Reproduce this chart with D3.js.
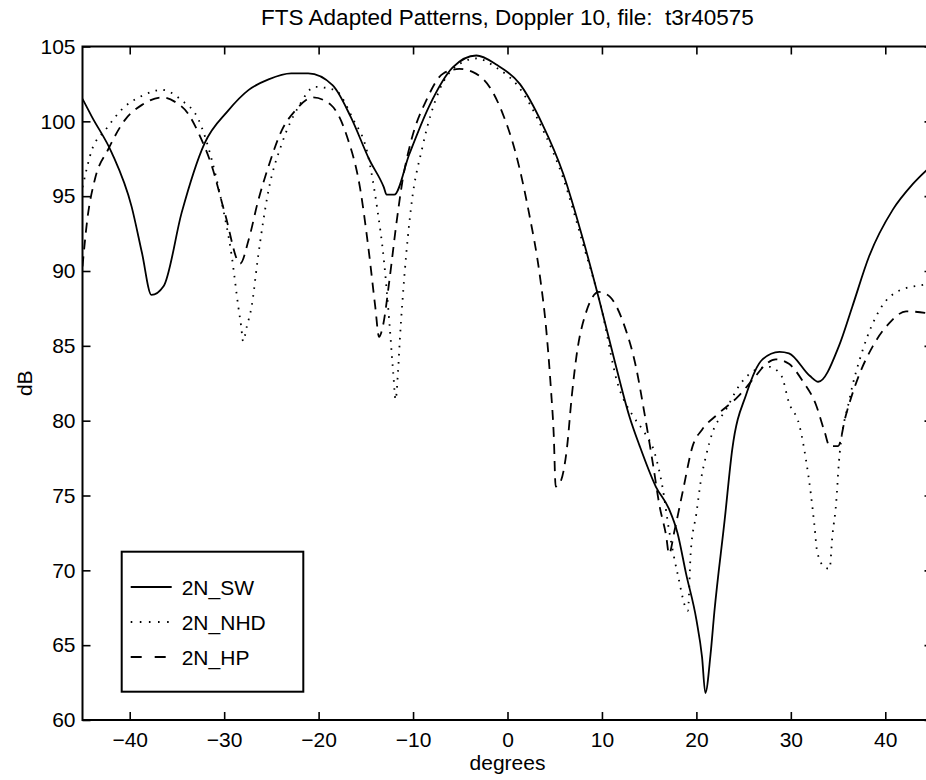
<!DOCTYPE html>
<html>
<head>
<meta charset="utf-8">
<script src="https://cdn.jsdelivr.net/npm/d3@7"></script>
<style>
  html, body { margin: 0; padding: 0; background: #fff; }
  svg { display: block; }
  text { font-family: "Liberation Sans", Arial, Helvetica, sans-serif; fill: #000; }
</style>
</head>
<body>
<svg id="chart" width="926" height="780"></svg>
<script>
// ---- data ----
const titleText = "FTS Adapted Patterns, Doppler 10, file:  t3r40575";
const xLabel = "degrees";
const yLabel = "dB";
const xTicks = [-40, -30, -20, -10, 0, 10, 20, 30, 40];
const yTicks = [60, 65, 70, 75, 80, 85, 90, 95, 100, 105];
const seriesNames = ["2N_SW", "2N_NHD", "2N_HP"];

const swDeg = [-45, -44.0, -41.9, -39.8, -38.7, -37.7, -36.4, -34.5, -32.1, -29.6, -27.4, -25.3, -22.9, -21.1, -18.5, -16.6, -14.6, -13.1, -12.8, -12.0, -10.4, -8.3, -5.8, -3.3, -1.2, 1.3, 3.7, 5.9, 8.0, 9.7, 11.5, 12.9, 14.0, 15.7, 17.1, 18.0, 18.9, 20.0, 20.6, 20.95, 21.5, 21.9, 23.0, 23.8, 25.3, 27.0, 28.8, 29.8, 32.0, 32.9, 35.1, 36.5, 38.3, 40.8, 42.9, 45];
const swDb  = [101.5, 100.3, 97.9, 94.3, 91.2, 88.4, 89.0, 93.9, 98.5, 100.7, 102.1, 102.8, 103.2, 103.2, 102.4, 100.3, 97.4, 95.6, 95.1, 95.1, 97.8, 101.0, 103.6, 104.4, 103.8, 102.5, 99.8, 96.5, 92.1, 88.1, 83.6, 80.3, 78.3, 75.6, 74.1, 72.5, 69.8, 66.7, 64.2, 61.8, 64.4, 67.2, 73.4, 78.1, 81.8, 84.1, 84.6, 84.5, 83.0, 82.6, 85.0, 87.6, 91.0, 94.1, 95.8, 97.1];

const nhdDeg = [-45, -44.0, -42.6, -40.5, -38.7, -36.6, -34.5, -32.7, -31.3, -30.3, -29.2, -28.5, -28.2, -28.0, -27.6, -27.1, -26.4, -25.3, -23.9, -22.1, -20.4, -18.3, -16.4, -14.8, -13.8, -13.1, -12.5, -12.1, -11.85, -11.6, -11.4, -10.9, -10.2, -9.0, -7.2, -5.4, -3.3, -1.2, 1.3, 3.7, 5.9, 8.0, 9.9, 11.7, 13.3, 14.3, 15.6, 16.4, 17.1, 18.0, 19.1, 19.4, 20.0, 20.5, 21.0, 21.7, 23.1, 24.6, 26.3, 27.7, 29.0, 29.8, 30.9, 31.6, 32.1, 32.5, 32.8, 33.6, 34.1, 34.4, 34.8, 35.1, 36.2, 37.6, 39.4, 41.5, 44.2, 45];
const nhdDb  = [95.6, 98.1, 99.4, 101.0, 101.7, 102.1, 101.4, 100.1, 97.4, 94.7, 91.0, 87.6, 86.3, 85.3, 86.3, 87.6, 91.0, 95.4, 98.5, 101.0, 102.3, 102.1, 100.2, 97.8, 94.2, 90.8, 86.5, 83.2, 81.4, 83.2, 85.4, 89.8, 94.3, 98.3, 102.1, 103.7, 104.2, 103.6, 102.2, 99.5, 96.2, 91.8, 87.6, 82.4, 80.3, 79.4, 77.8, 75.6, 72.7, 69.8, 67.3, 71.2, 73.8, 76.1, 77.6, 79.2, 80.7, 82.4, 83.4, 83.6, 83.0, 81.2, 79.7, 77.4, 75.2, 73.0, 71.2, 70.2, 70.1, 72.3, 74.5, 77.3, 81.4, 84.7, 87.4, 88.7, 89.1, 89.2];

const hpDeg = [-45, -44.5, -43.7, -42.3, -40.5, -38.7, -36.6, -35.2, -33.8, -32.7, -31.3, -29.9, -28.3, -27.4, -26.4, -25.3, -23.9, -22.5, -20.6, -18.7, -17.0, -15.6, -14.7, -14.0, -13.6, -13.2, -12.5, -11.8, -11.1, -10.2, -8.6, -6.8, -5.1, -3.7, -1.9, -0.5, 0.9, 2.3, 3.4, 4.1, 4.6, 4.9, 5.1, 5.6, 6.3, 6.8, 7.3, 8.3, 9.7, 10.8, 12.4, 13.6, 14.5, 15.4, 16.1, 16.8, 17.1, 17.7, 18.6, 19.6, 20.6, 22.2, 24.4, 26.3, 27.4, 28.4, 29.8, 31.2, 32.7, 33.6, 34.1, 35.0, 35.8, 37.2, 38.7, 40.4, 42.2, 44.2, 45];
const hpDb  = [90.3, 93.4, 96.1, 98.1, 100.1, 101.1, 101.6, 101.3, 100.5, 99.2, 97.0, 93.8, 90.5, 92.1, 94.7, 97.0, 99.4, 100.7, 101.6, 101.1, 99.0, 95.5, 91.4, 87.6, 85.6, 86.3, 89.4, 93.0, 96.1, 98.7, 101.4, 103.2, 103.5, 103.3, 102.3, 100.5, 97.8, 93.8, 89.8, 86.1, 82.1, 79.0, 75.6, 75.9, 78.2, 81.6, 84.3, 87.2, 88.6, 88.3, 86.3, 83.6, 80.5, 77.1, 74.3, 72.3, 71.1, 72.7, 75.4, 78.3, 79.4, 80.4, 81.6, 83.0, 83.8, 84.1, 83.8, 82.7, 81.0, 79.2, 78.3, 78.3, 80.3, 83.0, 85.0, 86.5, 87.3, 87.2, 87.1];

// ---- layout ----
const svg = d3.select("#chart");
const plotL = 82.5, plotR = 932.5, plotT = 46.5, plotB = 720;
const x = d3.scaleLinear().domain([-45, 45]).range([plotL, plotR]);
const y = d3.scaleLinear().domain([60, 105]).range([plotB, plotT]);
const tickLen = 8;
const fontFamily = '"Liberation Sans", Arial, Helvetica, sans-serif';

svg.append("defs").append("clipPath").attr("id", "plotclip")
  .append("rect").attr("x", plotL).attr("y", plotT).attr("width", plotR - plotL).attr("height", plotB - plotT);

// title
svg.append("text").attr("x", (plotL + plotR) / 2).attr("y", 25)
  .attr("text-anchor", "middle").style("font-size", "22.5px").style("white-space", "pre")
  .attr("xml:space", "preserve").text(titleText);

// axes with inward ticks
const gB = svg.append("g").attr("transform", `translate(0,${plotB})`)
  .call(d3.axisBottom(x).tickValues(xTicks).tickSizeInner(-tickLen).tickSizeOuter(0).tickPadding(11.8)
        .tickFormat(d => d < 0 ? "\u2212" + Math.abs(d) : d));
const gT = svg.append("g").attr("transform", `translate(0,${plotT})`)
  .call(d3.axisTop(x).tickValues(xTicks).tickSizeInner(-tickLen).tickSizeOuter(0).tickFormat(""));
const gL = svg.append("g").attr("transform", `translate(${plotL},0)`)
  .call(d3.axisLeft(y).tickValues(yTicks).tickSizeInner(-tickLen).tickSizeOuter(0).tickPadding(7));
const gR = svg.append("g").attr("transform", `translate(${plotR},0)`)
  .call(d3.axisRight(y).tickValues(yTicks).tickSizeInner(-tickLen).tickSizeOuter(0).tickFormat(""));

[gB, gT, gL, gR].forEach(g => {
  g.select(".domain").remove();
  g.selectAll(".tick line").attr("stroke", "#000").attr("stroke-width", 1.6);
  g.selectAll(".tick text").style("font-size", "21px")
    .style("font-family", fontFamily).attr("fill", "#000");
});

// frame
svg.append("rect").attr("x", plotL).attr("y", plotT).attr("width", plotR - plotL).attr("height", plotB - plotT)
  .attr("fill", "none").attr("stroke", "#000").attr("stroke-width", 2);

// axis labels
svg.append("text").attr("x", (plotL + plotR) / 2).attr("y", 770)
  .attr("text-anchor", "middle").style("font-size", "21px").text(xLabel);
svg.append("text").attr("transform", `translate(32,${(plotT + plotB) / 2}) rotate(-90)`)
  .attr("text-anchor", "middle").style("font-size", "21px").text(yLabel);

// series
const styles = [
  { dash: null, width: 1.8 },
  { dash: "1.6,6.4", width: 1.8 },
  { dash: "10,7", width: 1.8 }
];
const seriesData = [
  d3.zip(swDeg, swDb),
  d3.zip(nhdDeg, nhdDb),
  d3.zip(hpDeg, hpDb)
];
const line = d3.line().x(d => x(d[0])).y(d => y(d[1])).curve(d3.curveMonotoneX);
const gLines = svg.append("g").attr("clip-path", "url(#plotclip)");
seriesData.forEach((data, i) => {
  gLines.append("path").datum(data)
    .attr("d", line).attr("fill", "none").attr("stroke", "#000")
    .attr("stroke-width", styles[i].width)
    .attr("stroke-dasharray", styles[i].dash)
    .attr("stroke-linejoin", "round");
});

// legend
const lg = svg.append("g");
lg.append("rect").attr("x", 121.7).attr("y", 551.7).attr("width", 181.6).attr("height", 140)
  .attr("fill", "#fff").attr("stroke", "#000").attr("stroke-width", 2);
seriesNames.forEach((name, i) => {
  const yy = 587 + i * 35;
  lg.append("line").attr("x1", 130.7).attr("x2", 171.7).attr("y1", yy).attr("y2", yy)
    .attr("stroke", "#000").attr("stroke-width", styles[i].width)
    .attr("stroke-dasharray", i === 1 ? "1.6,7.5" : (i === 2 ? "11,13" : null));
  lg.append("text").attr("x", 181.7).attr("y", yy).attr("dy", "0.36em")
    .style("font-size", "21px").text(name);
});
</script>
</body>
</html>
